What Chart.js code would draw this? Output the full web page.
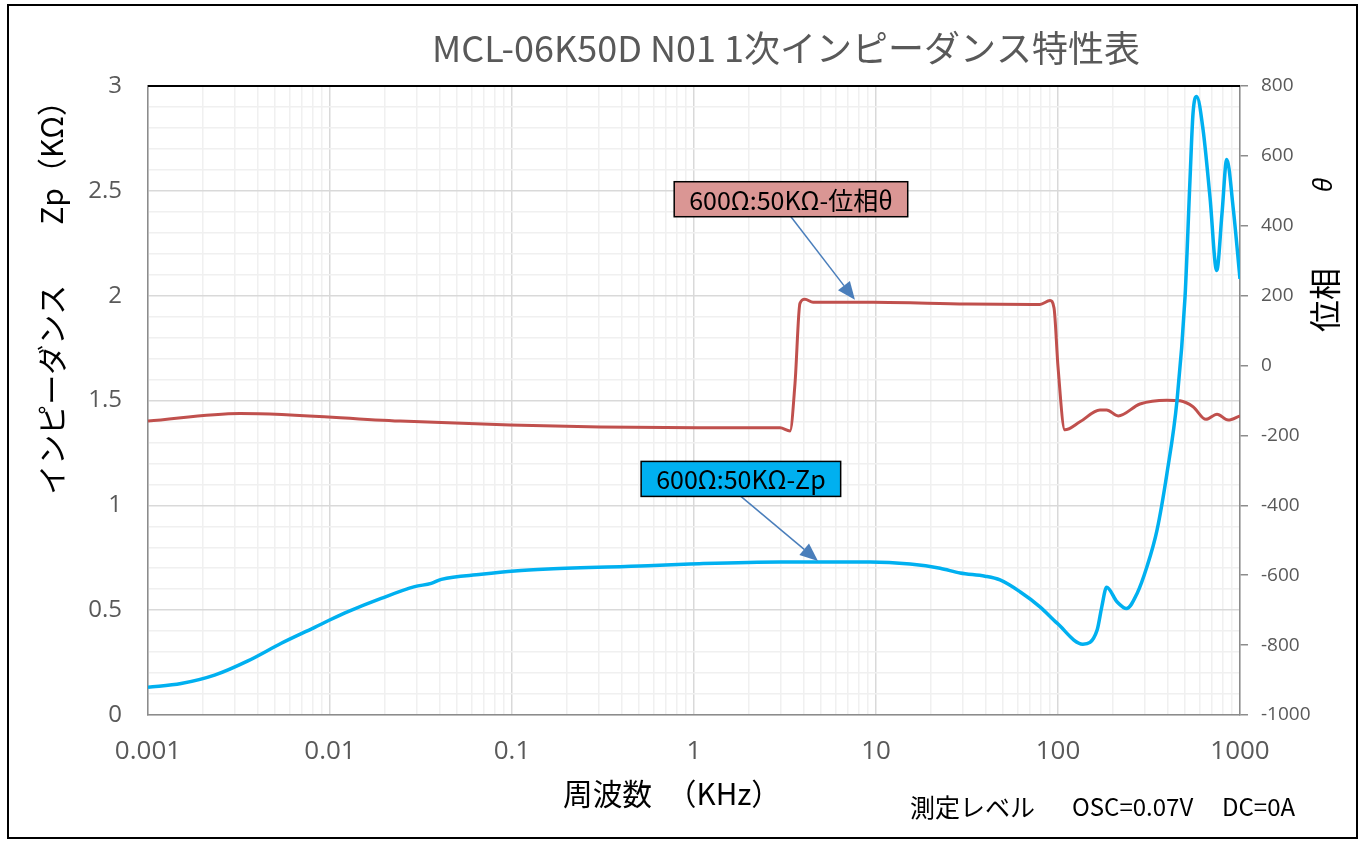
<!DOCTYPE html>
<html>
<head>
<meta charset="utf-8">
<script src="https://cdn.jsdelivr.net/npm/chart.js@4.4.1/dist/chart.umd.min.js"></script>
<style>
  html, body { margin: 0; padding: 0; background: #fff; }
  canvas { display: block; }
</style>
</head>
<body>
<canvas id="chart" width="1364" height="842"></canvas>
<script>
const TITLE_TEXT = 'MCL-06K50D N01 1次インピーダンス特性表';
const X_TITLE = '周波数　（KHz）';
const Y_TITLE = 'インピーダンス　　Zp（KΩ）';
const Y1_TITLE_MAIN = '位相';
const Y1_TITLE_SYMBOL = 'θ';
const FOOTER_PARTS = ['測定レベル', 'OSC=0.07V', 'DC=0A'];

const X_TICK_VALUES = [0.001, 0.01, 0.1, 1, 10, 100, 1000];
const X_TICK_LABELS = ['0.001', '0.01', '0.1', '1', '10', '100', '1000'];
const Y_TICK_LABELS = ['0', '0.5', '1', '1.5', '2', '2.5', '3'];
const Y1_TICK_VALUES = [-1000, -800, -600, -400, -200, 0, 200, 400, 600, 800];

// Zp (KΩ) vs frequency (KHz)
const ZP_FREQ = [0.001, 0.00152, 0.00232, 0.00354, 0.0054, 0.00824, 0.00996, 0.01256, 0.0191, 0.0292,
  0.036, 0.0409, 0.0678, 0.1035, 0.158, 0.558, 0.95, 2.97, 9.27, 15.4, 22.5, 29, 39.7, 48, 61.8, 79.6,
  98.9, 137, 164, 174, 185, 211, 238, 272, 308, 350, 397, 451, 499, 531, 552, 578, 627, 684, 745, 796,
  846, 917, 1000];
const ZP_VALUES = [0.132, 0.15, 0.19, 0.258, 0.342, 0.418, 0.453, 0.493, 0.556, 0.612,
  0.628, 0.647, 0.671, 0.687, 0.696, 0.712, 0.72, 0.73, 0.73, 0.72, 0.70, 0.677, 0.662, 0.644, 0.588, 0.516,
  0.438, 0.338, 0.405, 0.516, 0.609, 0.54, 0.508, 0.58, 0.707, 0.882, 1.153, 1.502, 1.995, 2.55, 2.87, 2.95,
  2.79, 2.47, 2.12, 2.39, 2.65, 2.42, 2.08];

// phase θ vs frequency (KHz)
const PHASE_FREQ = [0.001, 0.0032, 0.0243, 0.0975, 0.305, 1.08, 2.97, 3.37, 3.59, 3.82, 4.07, 4.51,
  9.64, 31.6, 79.6, 90.4, 95.1, 100, 109, 132, 170, 185, 214, 282, 396, 468, 552, 650, 748, 861, 1000];
const PHASE_VALUES = [-159, -137, -159, -170, -176, -178, -178, -187, -50, 178, 190, 181,
  181, 176, 175, 186, 165, -3, -184, -161, -127, -127, -144, -110, -99, -101, -118, -154, -139, -156, -144];

const CALLOUT_TEXTS = ['600Ω:50KΩ-位相θ', '600Ω:50KΩ-Zp'];
const CALLOUT_AXES = ['y1', 'y'];
const CALLOUT_BOX_FREQ = [3.41, 1.81];
const CALLOUT_BOX_VALUE = [476, 1.126];
const CALLOUT_TIP_FREQ = [7.66, 4.8];
const CALLOUT_TIP_VALUE = [188, 0.735];
const CALLOUT_FILLS = ['#da9694', '#00b0f0'];

const COLORS = {
  zp: '#00b0f0',
  phase: '#c0504d',
  tick: '#595959',
  majorGrid: '#d9d9d9',
  minorGrid: '#f0f0f0',
  axis: '#8c8c8c',
  arrow: '#4a7ebb'
};

const FONT_LATIN = '"Open Sans", "Noto Sans CJK JP", sans-serif';
const FONT_JP = '"Noto Sans CJK JP", "Noto Sans", sans-serif';

function toPoints(xs, ys) {
  return xs.map((x, i) => ({ x, y: ys[i] }));
}

function isDecade(value) {
  const exp = Math.log10(value);
  return Math.abs(exp - Math.round(exp)) < 1e-9;
}

function isHalfStep(value) {
  return Math.abs(value * 2 - Math.round(value * 2)) < 1e-9;
}

function buildLogTicks(scale) {
  const ticks = [];
  for (let e = -3; e < 3; e++) {
    for (let m = 1; m < 10; m++) {
      ticks.push({ value: Number((m * Math.pow(10, e)).toPrecision(6)) });
    }
  }
  ticks.push({ value: 1000 });
  scale.ticks = ticks;
}

function buildTenthTicks(scale) {
  const ticks = [];
  for (let k = 0; k <= 30; k++) ticks.push({ value: k / 10 });
  scale.ticks = ticks;
}

// draw text squeezed horizontally so it never exceeds maxWidth
function fillFitted(ctx, text, x, y, maxWidth) {
  const w = ctx.measureText(text).width;
  const k = Math.min(1, maxWidth / w);
  ctx.save();
  ctx.translate(x, y);
  ctx.scale(k, 1);
  ctx.fillText(text, 0, 0);
  ctx.restore();
}

function drawArrow(ctx, x0, y0, x1, y1) {
  const angle = Math.atan2(y1 - y0, x1 - x0);
  const headLen = 18;
  const headHalf = 7.5;
  ctx.save();
  ctx.strokeStyle = COLORS.arrow;
  ctx.fillStyle = COLORS.arrow;
  ctx.lineWidth = 1.5;
  ctx.beginPath();
  ctx.moveTo(x0, y0);
  ctx.lineTo(x1 - Math.cos(angle) * headLen, y1 - Math.sin(angle) * headLen);
  ctx.stroke();
  ctx.translate(x1, y1);
  ctx.rotate(angle);
  ctx.beginPath();
  ctx.moveTo(0, 0);
  ctx.lineTo(-headLen, -headHalf);
  ctx.lineTo(-headLen, headHalf);
  ctx.closePath();
  ctx.fill();
  ctx.restore();
}

const decorationsPlugin = {
  id: 'decorations',
  afterDraw(chart) {
    const { ctx, chartArea, scales } = chart;
    ctx.save();

    // top edge of plot area
    ctx.strokeStyle = '#000';
    ctx.lineWidth = 2;
    ctx.beginPath();
    ctx.moveTo(chartArea.left, chartArea.top);
    ctx.lineTo(chartArea.right, chartArea.top);
    ctx.stroke();

    // condensed title
    ctx.font = `36px ${FONT_JP}`;
    ctx.fillStyle = COLORS.tick;
    ctx.textAlign = 'center';
    ctx.textBaseline = 'middle';
    fillFitted(ctx, TITLE_TEXT, 786, 48, 708);

    // x axis title
    ctx.font = `30px ${FONT_JP}`;
    ctx.fillStyle = '#000';
    fillFitted(ctx, X_TITLE, 672, 794, 218);

    // right axis title, read bottom to top
    const y1Right = scales.y1.right;
    ctx.save();
    ctx.translate(y1Right - 39, 300);
    ctx.rotate(-Math.PI / 2);
    ctx.fillStyle = '#000';
    ctx.font = `32px ${FONT_JP}`;
    ctx.fillText(Y1_TITLE_MAIN, 0, 0);
    ctx.font = `italic 26px ${FONT_LATIN}`;
    ctx.fillText(Y1_TITLE_SYMBOL, 115, 0);
    ctx.restore();

    // callouts
    CALLOUT_TEXTS.forEach((text, i) => {
      const yScale = scales[CALLOUT_AXES[i]];
      const bx = scales.x.getPixelForValue(CALLOUT_BOX_FREQ[i]);
      const by = yScale.getPixelForValue(CALLOUT_BOX_VALUE[i]);
      const tx = scales.x.getPixelForValue(CALLOUT_TIP_FREQ[i]);
      const ty = yScale.getPixelForValue(CALLOUT_TIP_VALUE[i]);
      ctx.font = `25px ${FONT_JP}`;
      const w = ctx.measureText(text).width + 30;
      const h = 35;
      drawArrow(ctx, bx, by + h / 2, tx, ty);
      ctx.fillStyle = CALLOUT_FILLS[i];
      ctx.fillRect(bx - w / 2, by - h / 2, w, h);
      ctx.strokeStyle = '#000';
      ctx.lineWidth = 1.5;
      ctx.strokeRect(bx - w / 2, by - h / 2, w, h);
      ctx.fillStyle = '#000';
      ctx.textAlign = 'center';
      ctx.textBaseline = 'middle';
      ctx.fillText(text, bx, by + 1);
    });

    // measurement note
    ctx.font = `25px ${FONT_JP}`;
    ctx.fillStyle = '#000';
    ctx.textAlign = 'left';
    ctx.textBaseline = 'middle';
    ctx.fillText(FOOTER_PARTS[0], 910, 807);
    ctx.font = `24px ${FONT_JP}`;
    ctx.fillText(FOOTER_PARTS[1], 1072, 807);
    ctx.fillText(FOOTER_PARTS[2], 1222, 807);

    // outer frame
    ctx.strokeStyle = '#000';
    ctx.lineWidth = 2;
    ctx.strokeRect(8, 5, 1349, 833);
    ctx.restore();
  }
};

const whiteBackground = {
  id: 'whiteBackground',
  beforeDraw(chart) {
    const { ctx } = chart;
    ctx.save();
    ctx.fillStyle = '#fff';
    ctx.fillRect(0, 0, chart.width, chart.height);
    ctx.restore();
  }
};

new Chart(document.getElementById('chart'), {
  type: 'line',
  data: {
    datasets: [
      {
        label: '600Ω:50KΩ-Zp',
        data: toPoints(ZP_FREQ, ZP_VALUES),
        yAxisID: 'y',
        borderColor: COLORS.zp,
        borderWidth: 3.5,
        pointRadius: 0,
        cubicInterpolationMode: 'monotone'
      },
      {
        label: '600Ω:50KΩ-位相θ',
        data: toPoints(PHASE_FREQ, PHASE_VALUES),
        yAxisID: 'y1',
        borderColor: COLORS.phase,
        borderWidth: 3,
        pointRadius: 0,
        cubicInterpolationMode: 'monotone'
      }
    ]
  },
  options: {
    responsive: false,
    animation: false,
    devicePixelRatio: 1,
    layout: { padding: { top: 86, left: 0, right: 0, bottom: 0 } },
    plugins: {
      legend: { display: false },
      tooltip: { enabled: false }
    },
    scales: {
      x: {
        type: 'logarithmic',
        min: 0.001,
        max: 1000,
        afterBuildTicks: buildLogTicks,
        afterFit: (scale) => { scale.height = 127; },
        border: { color: COLORS.axis, width: 1.5 },
        grid: {
          drawTicks: false,
          color: (ctx) => (ctx.tick && isDecade(ctx.tick.value) ? COLORS.majorGrid : COLORS.minorGrid),
          lineWidth: 1.5
        },
        ticks: {
          autoSkip: false,
          maxRotation: 0,
          padding: 21,
          color: COLORS.tick,
          font: { family: FONT_LATIN, size: 26 },
          callback: (value) => {
            const idx = X_TICK_VALUES.findIndex((v) => Math.abs(v - value) < v * 1e-6);
            return idx >= 0 ? X_TICK_LABELS[idx] : '';
          }
        },
        title: { display: false }
      },
      y: {
        type: 'linear',
        position: 'left',
        min: 0,
        max: 3,
        afterBuildTicks: buildTenthTicks,
        afterFit: (scale) => { scale.width = 148; },
        border: { color: COLORS.axis, width: 1.5 },
        grid: {
          drawTicks: false,
          color: (ctx) => (ctx.tick && isHalfStep(ctx.tick.value) ? COLORS.majorGrid : COLORS.minorGrid),
          lineWidth: 1.5
        },
        ticks: {
          autoSkip: false,
          padding: 26,
          color: COLORS.tick,
          font: { family: FONT_LATIN, size: 24 },
          callback: (value) => (isHalfStep(value) ? Y_TICK_LABELS[Math.round(value * 2)] : '')
        },
        title: {
          display: true,
          text: Y_TITLE,
          align: 'end',
          color: '#000',
          font: { family: FONT_JP, size: 30 },
          padding: { top: 34, bottom: 0 }
        }
      },
      y1: {
        type: 'linear',
        position: 'right',
        min: -1000,
        max: 800,
        afterBuildTicks: (scale) => { scale.ticks = Y1_TICK_VALUES.map((value) => ({ value })); },
        afterFit: (scale) => { scale.width = 124; },
        border: { color: COLORS.axis, width: 1.5 },
        grid: {
          drawOnChartArea: false,
          drawTicks: true,
          tickLength: 8,
          color: COLORS.axis,
          lineWidth: 1.5
        },
        ticks: {
          autoSkip: false,
          padding: 13,
          color: COLORS.tick,
          font: { family: FONT_LATIN, size: 19 },
          callback: (value) => String(value)
        }
      }
    }
  },
  plugins: [whiteBackground, decorationsPlugin]
});
</script>
</body>
</html>
